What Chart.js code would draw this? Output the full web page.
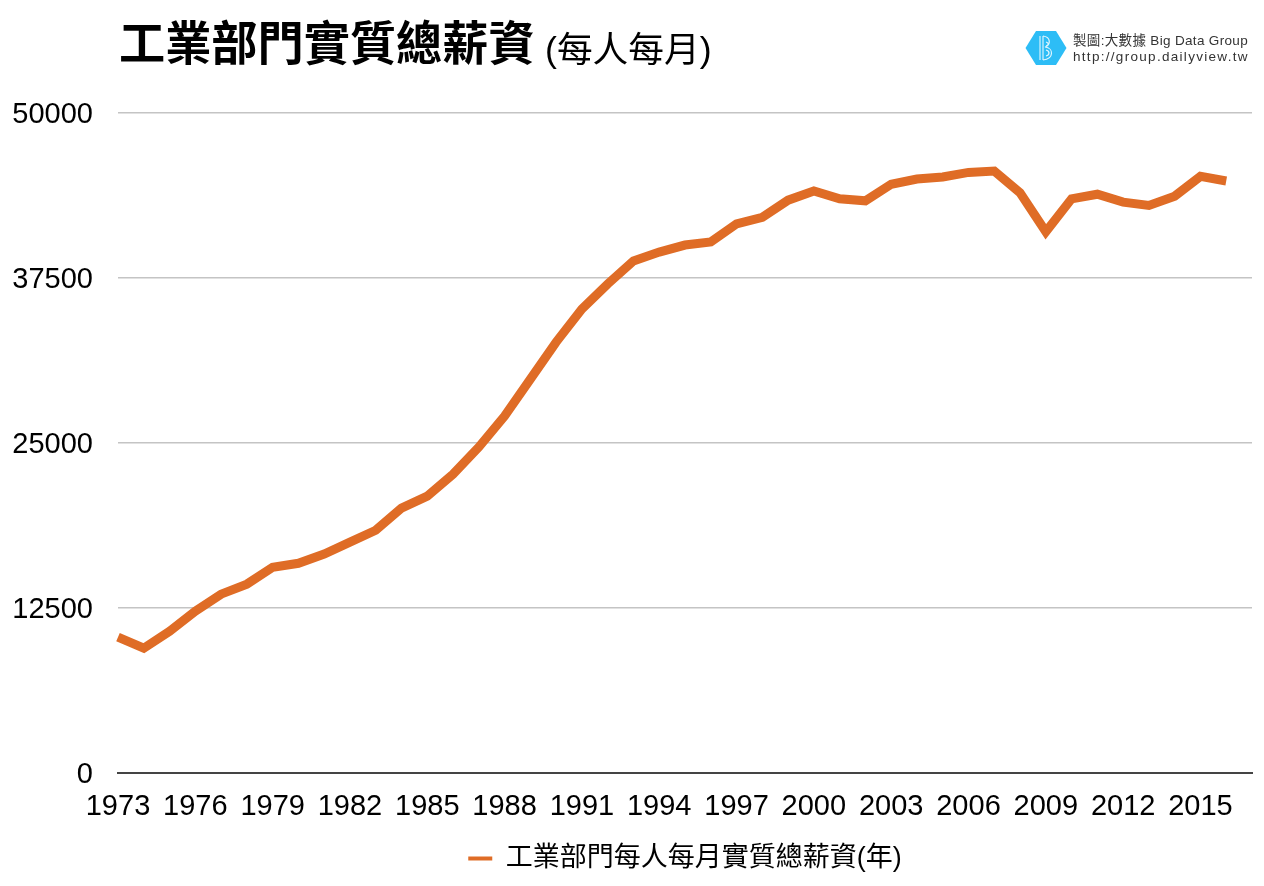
<!DOCTYPE html>
<html lang="zh-Hant"><head><meta charset="utf-8">
<script src="https://cdn.jsdelivr.net/npm/chart.js@4"></script>
<style>
html,body{margin:0;padding:0;background:#fff;width:1264px;height:886px;overflow:hidden}
#wrap{position:relative;width:1264px;height:886px;font-family:"Liberation Sans","Noto Sans CJK TC",sans-serif;color:#000}
canvas{position:absolute;left:0;top:0}
.t{position:absolute;white-space:nowrap;line-height:1}
</style></head><body>
<div id="wrap">
<canvas id="c" width="1264" height="886"></canvas>
<div class="t" style="left:119px;top:21px;font-size:46.2px;font-weight:bold">工業部門實質總薪資</div>
<div class="t" style="left:545px;top:33px;font-size:35.7px">(每人每月)</div>
<svg style="position:absolute;left:1025px;top:30px" width="42" height="36" viewBox="0 0 42 36">
<polygon points="0.5,18 11,1 31,1 41.5,18 31,35 11,35" fill="#2dbdf6"/>
<path d="M15 6V30M18 6V30" stroke="#fff" stroke-width="1.2" opacity=".8" fill="none"/>
<path d="M18 6C26 7 26 15 20 17C29 18 29 29 18 30M21 12C24 13 24 15 21 16M21 20C25 21 25 25 21 26" stroke="#fff" stroke-width="1.2" opacity=".85" fill="none"/>
</svg>
<div class="t" style="left:1073px;top:34px;font-size:13.5px;color:#333;letter-spacing:.33px">製圖:大數據 Big Data Group</div>
<div class="t" style="left:1073px;top:50px;font-size:13.5px;color:#333;letter-spacing:1.3px">http://group.dailyview.tw</div>
</div>
<script>
const years = ['1973','1974','1975','1976','1977','1978','1979','1980','1981','1982','1983','1984','1985','1986','1987','1988','1989','1990','1991','1992','1993','1994','1995','1996','1997','1998','1999','2000','2001','2002','2003','2004','2005','2006','2007','2008','2009','2010','2011','2012','2013','2014','2015','2016','2017'];
const wages = [10300,9470,10750,12270,13560,14320,15600,15900,16600,17500,18400,20080,20980,22650,24700,27050,29850,32650,35150,37050,38800,39470,40000,40230,41600,42100,43400,44100,43500,43350,44600,45000,45150,45500,45600,43950,41000,43500,43850,43250,43000,43700,45200,44850,null];
const seriesName = '工業部門每人每月實質總薪資(年)';
const FONT = '"Liberation Sans","Noto Sans CJK TC",sans-serif';
const ORANGE = '#df6c26';
const centreLegendOnPlot = { id: 'centreLegendOnPlot', afterLayout(chart) {
  const l = chart.legend, a = chart.chartArea;
  const shift = (a.left + a.right) / 2 - (l.left + l.right) / 2;
  l.left += shift; l.right += shift;
} };
new Chart(document.getElementById('c'), {
  type: 'line',
  plugins: [centreLegendOnPlot],
  data: { labels: years, datasets: [{ label: seriesName, data: wages, borderColor: ORANGE, backgroundColor: ORANGE, borderWidth: 9, pointRadius: 0, tension: 0, borderCapStyle: 'butt', borderJoinStyle: 'miter', clip: false }] },
  options: {
    responsive: false, animation: false, devicePixelRatio: 1,
    layout: { autoPadding: false, padding: { top: 113, right: 12, left: 0, bottom: 4 } },
    plugins: {
      tooltip: { enabled: false },
      legend: { position: 'bottom', labels: { boxWidth: 24, boxHeight: 4, padding: 5, color: '#000', font: { family: FONT, size: 27 },
        generateLabels(chart) {
          const items = Chart.defaults.plugins.legend.labels.generateLabels(chart);
          items.forEach(i => { i.lineWidth = 0; });
          return items;
        } } }
    },
    scales: {
      x: {
        afterFit(s) { s.paddingRight = 0; },
        grid: { display: false, drawTicks: false },
        border: { color: '#444', width: 2 },
        ticks: { autoSkip: false, maxRotation: 0, padding: 16, color: '#000', font: { family: FONT, size: 29 },
          callback(v, i) { return i % 3 === 0 && i < 44 ? years[i] : ''; } }
      },
      y: {
        min: 0, max: 50000,
        afterFit(s) { s.width = 118; },
        grid: { color: '#c4c4c4', lineWidth: 1.5, drawTicks: false },
        border: { display: false },
        ticks: { stepSize: 12500, padding: 25, labelOffset: 2, color: '#000', font: { family: FONT, size: 29 }, callback: v => String(v) }
      }
    }
  }
});
</script>
</body></html>
